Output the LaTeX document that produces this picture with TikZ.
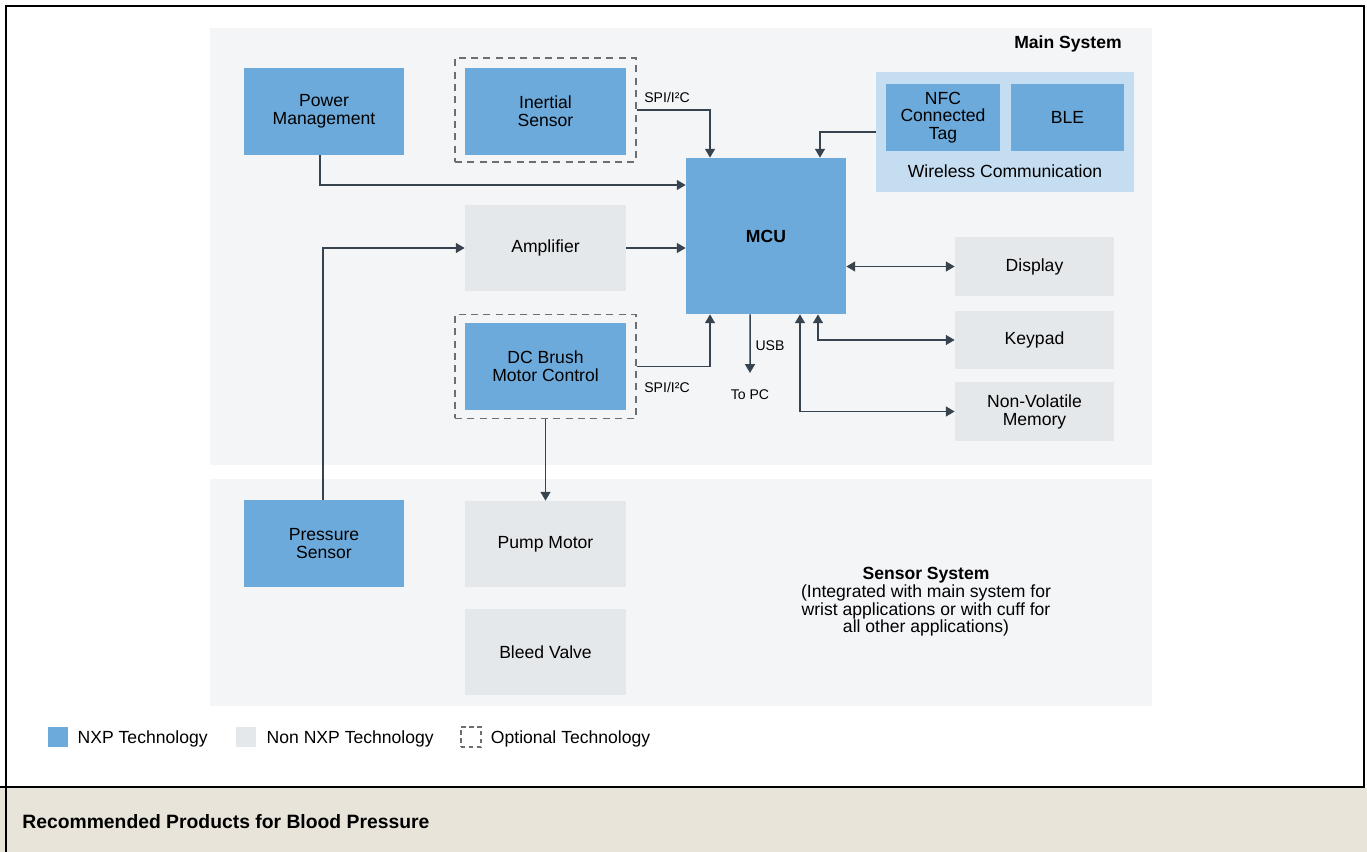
\documentclass[tikz,border=0pt]{standalone}
\usepackage{fontspec}
\setmainfont{Liberation Sans}
\usetikzlibrary{positioning,arrows.meta}

\definecolor{nxpblue}{HTML}{6DAADC}
\definecolor{nonnxp}{HTML}{E5E8EA}
\definecolor{panelgrey}{HTML}{F4F5F7}
\definecolor{wirelessblue}{HTML}{C5DDF1}
\definecolor{wirecol}{HTML}{37434F}
\definecolor{dashgrey}{HTML}{6B6F73}
\definecolor{beige}{HTML}{E8E4DA}

\tikzset{
	blk/.style={minimum width=3.2cm, minimum height=1.74cm, inner sep=0, align=center, font=\fontsize{10}{10.2}\selectfont},
	nxp/.style={blk, fill=nxpblue},
	other/.style={blk, fill=nonnxp},
	optbox/.style={draw=dashgrey, line width=0.8pt, dash pattern=on 4pt off 3pt, minimum width=3.62cm, minimum height=2.08cm, inner sep=0},
	wire/.style={draw=wirecol, line width=0.85pt, -{Triangle[width=5.6pt,length=5pt]}},
	wire2/.style={wire, {Triangle[width=5.6pt,length=5pt]}-{Triangle[width=5.6pt,length=5pt]}},
	lbl/.style={inner sep=0, font=\fontsize{8}{9}\selectfont},
	legtxt/.style={inner sep=0, yshift=-0.04cm, font=\fontsize{10}{11}\selectfont}
}

\begin{document}
\begin{tikzpicture}[x=0.02cm, y=-0.02cm]
	\useasboundingbox (0,0) rectangle (1367,852);
	% outer frame and footer
	\fill[beige] (0,788) rectangle (1367,852);
	\draw[black, line width=1.6pt] (6,852) -- (6,6) -- (1364,6) -- (1364,787) -- (0,787);
	\node[anchor=west, inner sep=0, font=\bfseries\fontsize{11}{13}\selectfont] (Footer) at (22,822) {Recommended Products for Blood Pressure};

	% backdrop panels
	\fill[panelgrey] (210,28) rectangle (1152,465);
	\fill[panelgrey] (210,479) rectangle (1152,706);
	\node[inner sep=0, font=\bfseries\fontsize{10}{11}\selectfont] (MainLbl) at (1068,44) {Main System};
	\node[inner sep=0, align=center, font=\fontsize{10}{10}\selectfont] (SensorLbl) at (926,602)
		{\textbf{Sensor System}\\(Integrated with main system for\\wrist applications or with cuff for\\all other applications)};

	% blocks
	\node[nxp] (PwrMgmt) at (324,111.5) {Power\\Management};
	\node[optbox] (InertialOpt) at (545.5,110) {};
	\node[nxp, minimum width=3.22cm] (Inertial) at (545.5,111.5) {Inertial\\Sensor};
	\node[fill=wirelessblue, minimum width=5.16cm, minimum height=2.4cm] (Wireless) at (1005,132) {};
	\node[nxp, minimum width=2.28cm, minimum height=1.34cm, font=\fontsize{10}{10}\selectfont] (NFC) at (943,117.5) {NFC\\Connected\\Tag};
	\node[nxp, minimum width=2.26cm, minimum height=1.34cm] (BLE) at (1067.5,117.5) {BLE};
	\node[inner sep=0, font=\fontsize{10}{11}\selectfont] (WirelessLbl) at (1005,171) {Wireless Communication};
	\node[nxp, minimum height=3.12cm, font=\bfseries\fontsize{10}{11}\selectfont] (MCU) at (766,236) {MCU};
	\node[other, minimum width=3.22cm] (Amp) at (545.5,248) {Amplifier};
	\node[other, minimum width=3.18cm, minimum height=1.18cm] (Display) at (1034.5,266.5) {Display};
	\node[other, minimum width=3.18cm, minimum height=1.16cm] (Keypad) at (1034.5,340) {Keypad};
	\node[other, minimum width=3.18cm, minimum height=1.18cm] (NVM) at (1034.5,411.5) {Non-Volatile\\Memory};
	\node[optbox] (DCOpt) at (545.5,366.5) {};
	\node[nxp, minimum width=3.22cm] (DCMotor) at (545.5,366.5) {DC Brush\\Motor Control};
	\node[nxp] (Pressure) at (324,543.5) {Pressure\\Sensor};
	\node[other, minimum width=3.22cm, minimum height=1.72cm] (Pump) at (545.5,544) {Pump Motor};
	\node[other, minimum width=3.22cm, minimum height=1.72cm] (Bleed) at (545.5,652) {Bleed Valve};

	% connectors
	\draw[wire] ([xshift=-0.08cm]PwrMgmt.south) |- ([yshift=1.02cm]MCU.west);
	\draw[wire] (InertialOpt.east) -| ([xshift=-1.12cm]MCU.north);
	\node[lbl] (SpiTop) at (667,97) {SPI/I²C};
	\draw[wire] (Wireless.west) -| ([xshift=1.08cm]MCU.north);
	\draw[wire] (Amp.east) -- (Amp.east -| MCU.west);
	\draw[wire] ([xshift=-0.02cm]Pressure.north) |- (Amp.west);
	\draw[wire2] (MCU.east |- Display.west) -- (Display.west);
	\draw[wire2] ([xshift=1.04cm]MCU.south) |- (Keypad.west);
	\draw[wire2] ([xshift=0.68cm]MCU.south) |- (NVM.west);
	\draw[wire] (DCOpt.east) -| ([xshift=-1.12cm]MCU.south);
	\node[lbl] (SpiBot) at (667,387) {SPI/I²C};
	\coordinate (ToPC) at (750,373);
	\draw[wire] ([xshift=-0.32cm]MCU.south) -- (ToPC);
	\node[lbl] (UsbLbl) at (770,346) {USB};
	\node[lbl] (PcLbl) at (750,395) {To PC};
	\draw[wire] (DCOpt.south) -- (Pump.north);

	% legend
	\node[fill=nxpblue, minimum size=0.4cm, inner sep=0] (LegNxp) at (58,737) {};
	\node[legtxt, right=0.18cm of LegNxp] (LegNxpTxt) {NXP Technology};
	\node[fill=nonnxp, minimum size=0.4cm, inner sep=0] (LegOther) at (246,737) {};
	\node[legtxt, right=0.2cm of LegOther] (LegOtherTxt) {Non NXP Technology};
	\node[draw=dashgrey, line width=0.7pt, dash pattern=on 2.5pt off 2pt, minimum size=0.4cm, inner sep=0] (LegOpt) at (471,737) {};
	\node[legtxt, right=0.18cm of LegOpt] (LegOptTxt) {Optional Technology};
\end{tikzpicture}
\end{document}
